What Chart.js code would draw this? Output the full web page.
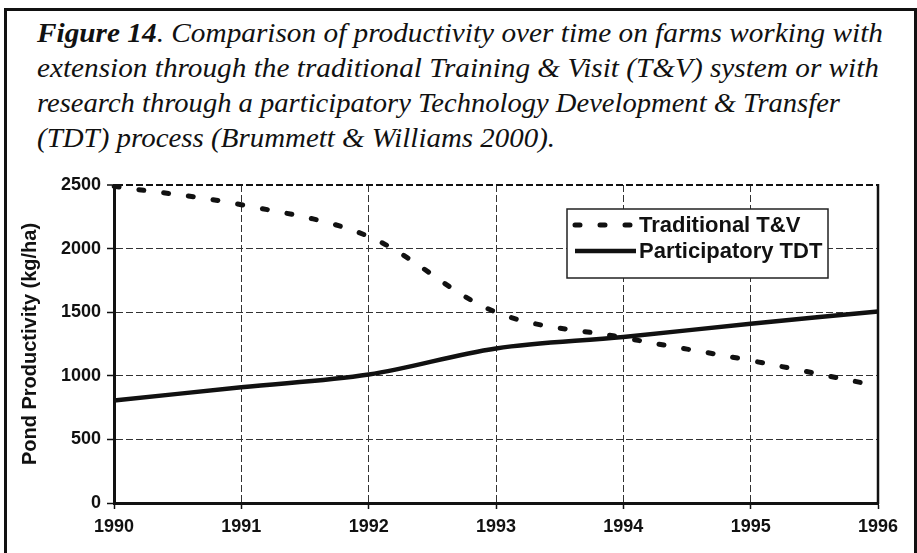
<!DOCTYPE html>
<html>
<head>
<meta charset="utf-8">
<script src="https://cdn.jsdelivr.net/npm/chart.js@4.4.1/dist/chart.umd.min.js"></script>
<style>
  html, body { margin: 0; padding: 0; background: #fff; }
  #wrap { position: relative; width: 917px; height: 553px; overflow: hidden; }
  #frame {
    position: absolute; left: 4px; top: 8px; width: 907px; height: 560px;
    border: 3px solid #111; border-bottom: none;
  }
  .cap {
    position: absolute; left: 37px; white-space: nowrap;
    font-family: "Liberation Serif", "Times New Roman", serif;
    font-style: italic; font-size: 27px; line-height: 35px; color: #111;
    transform-origin: 0 0;
  }
  .cap b { font-weight: bold; }
  #chartBox { position: absolute; left: 0; top: 0; width: 917px; height: 553px; }
</style>
</head>
<body>
<div id="wrap">
  <div id="frame"></div>
  <div class="cap" id="cap1" style="top:16px"><b>Figure 14</b>. Comparison of productivity over time on farms working with</div>
  <div class="cap" id="cap2" style="top:51px">extension through the traditional Training &amp; Visit (T&amp;V) system or with</div>
  <div class="cap" id="cap3" style="top:86px">research through a participatory Technology Development &amp; Transfer</div>
  <div class="cap" id="cap4" style="top:121px">(TDT) process (Brummett &amp; Williams 2000).</div>
  <div id="chartBox"><canvas id="myChart" width="917" height="553"></canvas></div>
</div>
<script>
var years = ['1990', '1991', '1992', '1993', '1994', '1995', '1996'];
var traditionalTV = [2490, 2345, 2095, 1500, 1300, 1120, 920];
var participatoryTDT = [805, 910, 1010, 1215, 1305, 1410, 1505];
var seriesNames = ['Traditional T&V', 'Participatory TDT'];
var yMin = 0, yMax = 2500, yStep = 500;

// stretch caption lines to the widths of the scanned figure
var capWidths = {cap1: 846, cap2: 842, cap3: 803, cap4: 518};
Object.keys(capWidths).forEach(function(id) {
  var el = document.getElementById(id);
  var w = el.getBoundingClientRect().width;
  el.style.transform = 'scaleX(' + (capWidths[id] / w) + ')';
});

var sansFont = '"Liberation Sans", Arial, sans-serif';

var boxLegend = {
  id: 'boxLegend',
  afterDatasetsDraw: function(chart) {
    var ctx = chart.ctx, area = chart.chartArea;
    var x = area.right - 311, y = area.top + 24, w = 261, h = 69;
    ctx.save();
    ctx.fillStyle = '#fff';
    ctx.fillRect(x, y, w, h);
    ctx.strokeStyle = '#222';
    ctx.lineWidth = 1.5;
    ctx.strokeRect(x, y, w, h);
    chart.data.datasets.forEach(function(ds, i) {
      var ly = y + 16 + i * 26;
      ctx.beginPath();
      ctx.lineWidth = ds.borderWidth;
      ctx.strokeStyle = ds.borderColor;
      ctx.lineCap = ds.borderCapStyle || 'butt';
      ctx.setLineDash(ds.borderDash || []);
      ctx.moveTo(x + 8, ly);
      ctx.lineTo(x + 69, ly);
      ctx.stroke();
      ctx.setLineDash([]);
      ctx.fillStyle = '#111';
      ctx.font = 'bold 22px ' + sansFont;
      ctx.textBaseline = 'middle';
      ctx.textAlign = 'left';
      ctx.fillText(ds.label, x + 72, ly + 1);
    });
    ctx.restore();
  }
};

var rightEdge = {
  id: 'rightEdge',
  afterDraw: function(chart) {
    var ctx = chart.ctx, area = chart.chartArea;
    ctx.save();
    ctx.strokeStyle = '#111';
    ctx.lineWidth = 2.5;
    ctx.beginPath();
    ctx.moveTo(area.right, area.top - 1);
    ctx.lineTo(area.right, area.bottom + 1);
    ctx.stroke();
    ctx.restore();
  }
};

var ctx = document.getElementById('myChart').getContext('2d');
var myChart = new Chart(ctx, {
  type: 'line',
  data: {
    labels: years,
    datasets: [
      {
        label: seriesNames[0],
        data: traditionalTV,
        borderColor: '#111',
        borderWidth: 5,
        borderDash: [5, 20],
        borderCapStyle: 'round',
        pointRadius: 0,
        tension: 0.35,
        fill: false
      },
      {
        label: seriesNames[1],
        data: participatoryTDT,
        borderColor: '#111',
        borderWidth: 4.5,
        pointRadius: 0,
        tension: 0.35,
        fill: false
      }
    ]
  },
  options: {
    responsive: false,
    animation: false,
    devicePixelRatio: 1,
    layout: {
      padding: {top: 185, right: 39, bottom: 10, left: 0}
    },
    plugins: {
      legend: {display: false},
      tooltip: {enabled: false}
    },
    scales: {
      x: {
        offset: false,
        afterFit: function(scale) { scale.height = 40; },
        grid: {
          color: '#333',
          lineWidth: 1,
          tickLength: 6,
          tickColor: '#111',
          tickWidth: 1.5
        },
        border: {display: true, color: '#111', width: 3, dash: [7, 3]},
        ticks: {
          color: '#111',
          padding: 7,
          maxRotation: 0,
          font: {family: sansFont, size: 18, weight: 'bold'}
        }
      },
      y: {
        min: yMin,
        max: yMax,
        afterFit: function(scale) { scale.width = 114; },
        grid: {
          color: function(c) { return c.tick && c.tick.value === yMax ? '#111' : '#333'; },
          lineWidth: function(c) { return c.tick && c.tick.value === yMax ? 2 : 1; },
          tickLength: 7,
          tickColor: '#111',
          tickWidth: 1.5
        },
        border: {display: true, color: '#111', width: 3, dash: [7, 3]},
        ticks: {
          stepSize: yStep,
          color: '#111',
          padding: 6,
          font: {family: sansFont, size: 18, weight: 'bold'},
          callback: function(value) { return String(value); }
        },
        title: {
          display: true,
          text: 'Pond Productivity (kg/ha)',
          color: '#111',
          padding: {top: 18, bottom: 0},
          font: {family: sansFont, size: 20, weight: 'bold'}
        }
      }
    }
  },
  plugins: [boxLegend, rightEdge]
});
</script>
</body>
</html>
